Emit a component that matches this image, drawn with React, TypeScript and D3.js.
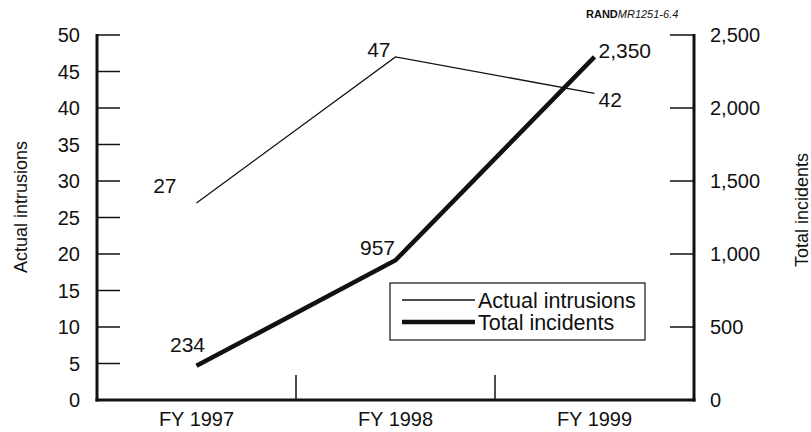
import React from 'react'
import * as d3 from 'd3'

const years = ['FY 1997', 'FY 1998', 'FY 1999']
const intrusions = [27, 47, 42]
const incidents = [234, 957, 2350]
const leftTicks = [0, 5, 10, 15, 20, 25, 30, 35, 40, 45, 50]
const rightTicks = [0, 500, 1000, 1500, 2000, 2500]

const width = 811
const height = 432
const plot = { left: 97, right: 694, top: 35, bottom: 400 }

// where each value label sits relative to its point: [dx, dy, anchor]
const intrusionLabelPos: [number, number, string][] = [
  [-20, -10, 'end'],
  [-5, 0, 'end'],
  [4, 14, 'start'],
]
const incidentLabelPos: [number, number, string][] = [
  [-9, -14, 'middle'],
  [-18, -5, 'middle'],
  [4, 1, 'start'],
]

const font = { fontFamily: 'Liberation Sans, Arial, sans-serif', fontSize: 20 }

export default function App() {
  const x = d3
    .scaleBand<string>()
    .domain(years)
    .range([plot.left, plot.right])
    .paddingInner(0)
    .paddingOuter(0)
  const cx = (d: string) => (x(d) as number) + x.bandwidth() / 2

  const yLeft = d3.scaleLinear().domain([0, 50]).range([plot.bottom, plot.top])
  const yRight = d3.scaleLinear().domain([0, 2500]).range([plot.bottom, plot.top])

  const intrusionLine = d3
    .line<number>()
    .x((d, i) => cx(years[i]))
    .y((d) => yLeft(d))
  const incidentLine = d3
    .line<number>()
    .x((d, i) => cx(years[i]))
    .y((d) => yRight(d))

  const fmt = d3.format(',')
  const boundaries = years.slice(1).map((d) => x(d) as number)

  return (
    <svg width={width} height={height} style={{ position: 'absolute', left: 0, top: 0, background: '#fff' }}>
      <g style={font} fill="#111">
        {/* left axis */}
        <line x1={plot.left} x2={plot.left} y1={yLeft(50) - 1} y2={plot.bottom + 1.5} stroke="#111" strokeWidth={3} />
        {leftTicks.map((t) => (
          <g key={'l' + t}>
            <line x1={plot.left} x2={plot.left + 23} y1={yLeft(t)} y2={yLeft(t)} stroke="#111" strokeWidth={1.5} />
            <text x={80} y={yLeft(t)} dy="0.35em" textAnchor="end">
              {t}
            </text>
          </g>
        ))}
        <text transform="translate(27,207) rotate(-90)" textAnchor="middle" fontSize={18}>
          Actual intrusions
        </text>

        {/* right axis */}
        <line x1={plot.right} x2={plot.right} y1={yRight(2500) - 1} y2={plot.bottom + 1.5} stroke="#111" strokeWidth={3} />
        {rightTicks.map((t) => (
          <g key={'r' + t}>
            <line x1={plot.right - 24} x2={plot.right} y1={yRight(t)} y2={yRight(t)} stroke="#111" strokeWidth={1.5} />
            <text x={710} y={yRight(t)} dy="0.35em" textAnchor="start">
              {fmt(t)}
            </text>
          </g>
        ))}
        <text transform="translate(808,210) rotate(-90)" textAnchor="middle" fontSize={18}>
          Total incidents
        </text>

        {/* bottom axis */}
        <line x1={plot.left - 1.5} x2={plot.right + 1.5} y1={plot.bottom} y2={plot.bottom} stroke="#111" strokeWidth={3} />
        {boundaries.map((b) => (
          <line key={'b' + b} x1={b} x2={b} y1={plot.bottom - 25} y2={plot.bottom} stroke="#111" strokeWidth={1.5} />
        ))}
        {years.map((d) => (
          <text key={d} x={cx(d)} y={plot.bottom + 26} textAnchor="middle">
            {d}
          </text>
        ))}

        {/* series */}
        <path d={intrusionLine(intrusions) || ''} fill="none" stroke="#111" strokeWidth={1.3} />
        <path d={incidentLine(incidents) || ''} fill="none" stroke="#111" strokeWidth={4.5} />

        {intrusions.map((v, i) => (
          <text
            key={'iv' + i}
            x={cx(years[i]) + intrusionLabelPos[i][0]}
            y={yLeft(v) + intrusionLabelPos[i][1]}
            textAnchor={intrusionLabelPos[i][2]}
            fontSize={21}
          >
            {v}
          </text>
        ))}
        {incidents.map((v, i) => (
          <text
            key={'tv' + i}
            x={cx(years[i]) + incidentLabelPos[i][0]}
            y={yRight(v) + incidentLabelPos[i][1]}
            textAnchor={incidentLabelPos[i][2]}
            fontSize={21}
          >
            {fmt(v)}
          </text>
        ))}

        {/* legend */}
        <g transform="translate(390,283)">
          <rect x={0} y={0} width={255} height={57} fill="#fff" stroke="#111" strokeWidth={1.2} />
          <line x1={12} x2={85} y1={17} y2={17} stroke="#111" strokeWidth={1.3} />
          <text x={88} y={17} dy="0.35em" fontSize={21.5}>
            Actual intrusions
          </text>
          <line x1={12} x2={85} y1={39} y2={39} stroke="#111" strokeWidth={4.5} />
          <text x={88} y={39} dy="0.35em" fontSize={21.5}>
            Total incidents
          </text>
        </g>

        {/* credit */}
        <text x={586} y={18} fontSize={11}>
          <tspan fontWeight="bold">RAND</tspan>
          <tspan fontStyle="italic">MR1251-6.4</tspan>
        </text>
      </g>
    </svg>
  )
}
